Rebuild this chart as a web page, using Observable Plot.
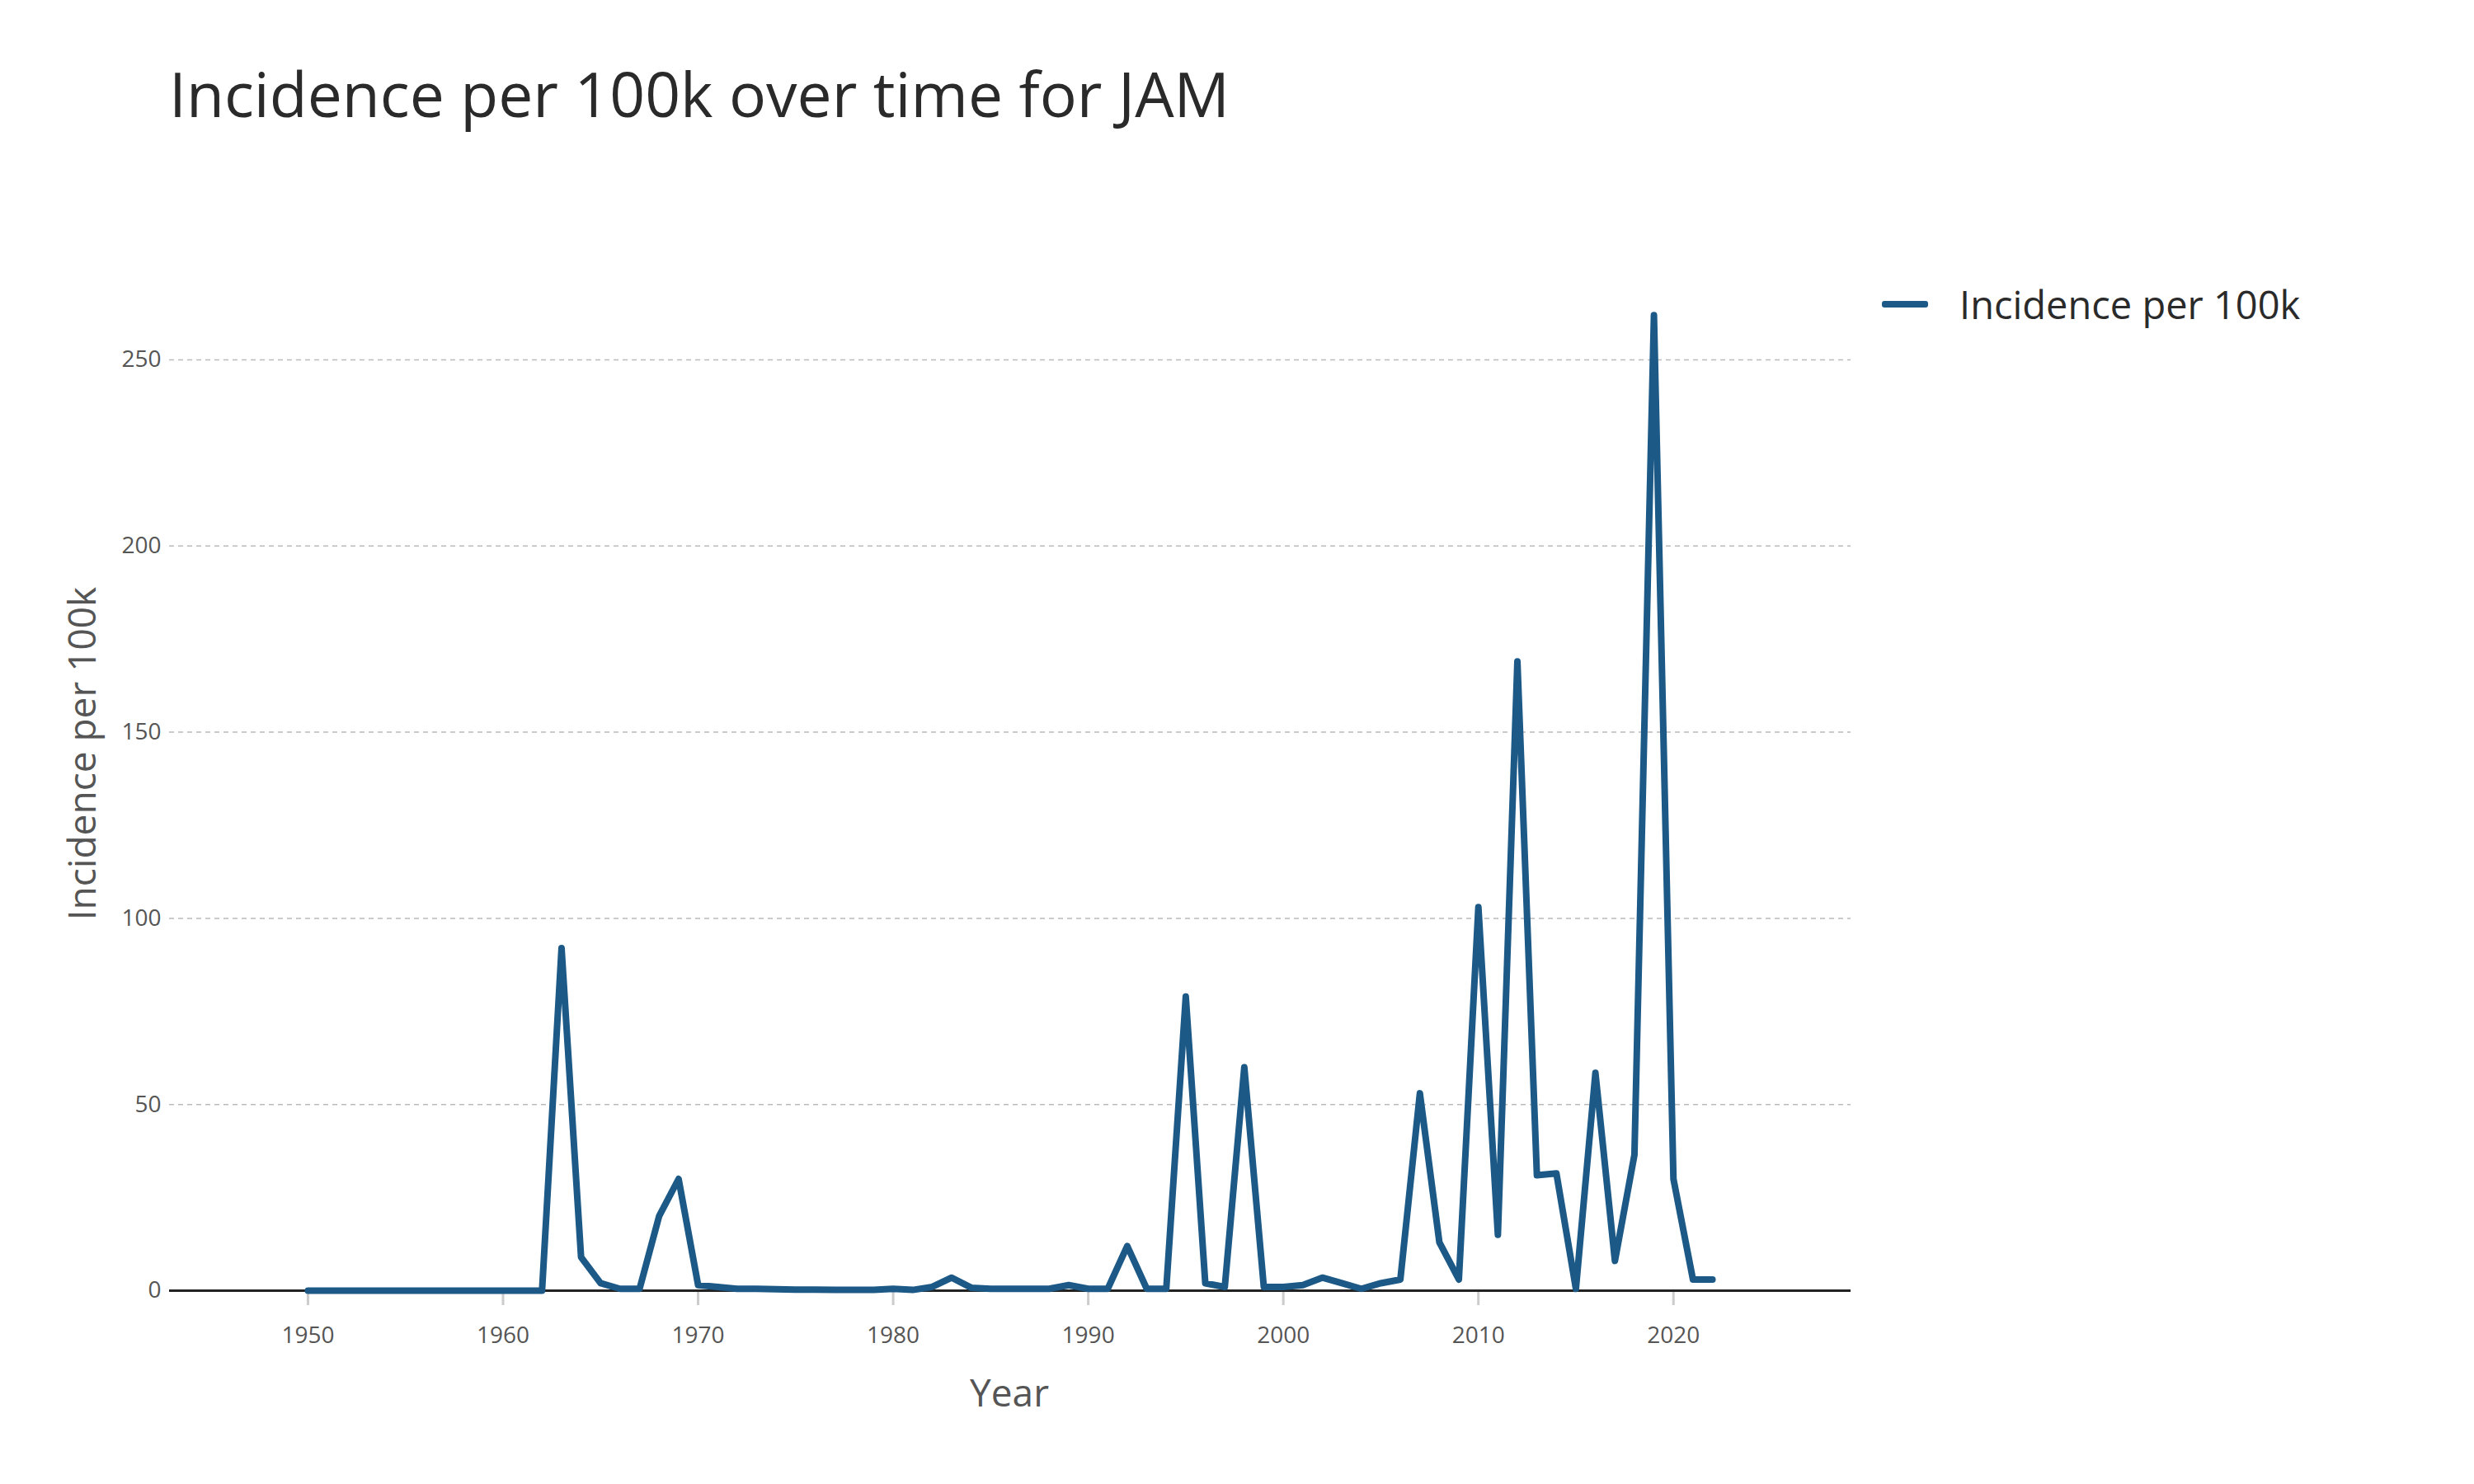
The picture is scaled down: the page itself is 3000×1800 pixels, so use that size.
<!DOCTYPE html>
<html>
<head>
<meta charset="utf-8">
<script src="https://cdn.jsdelivr.net/npm/d3@7"></script>
<script src="https://cdn.jsdelivr.net/npm/@observablehq/plot@0.6"></script>
<style>
  body { margin: 0; background: #fff; font-family: "Open Sans", sans-serif; }
  #wrap { position: relative; width: 3000px; height: 1800px; }
  #title { position: absolute; left: 205px; top: 62px; font-size: 75px; color: #2a2a2a; }
  #legend { position: absolute; left: 2282px; top: 337px; font-size: 47px; color: #2a2a2a; display: flex; align-items: center; }
  #legend span.sw { display: inline-block; width: 56px; height: 8px; background: #1c5986; border-radius: 3px; margin-right: 38px; }
  #chart { position: absolute; left: 0; top: 0; }
</style>
</head>
<body>
<div id="wrap">
  <div id="chart"></div>
  <div id="title">Incidence per 100k over time for JAM</div>
  <div id="legend"><span class="sw"></span>Incidence per 100k</div>
</div>
<script>
const years = d3.range(1950, 2023)
const incidence = [
  0, 0, 0, 0, 0, 0, 0, 0, 0, 0,          // 1950-1959
  0, 0, 0, 92, 9, 2, 0.5, 0.5, 20, 30,   // 1960-1969
  1.5, 1, 0.5, 0.5, 0.4, 0.3, 0.3, 0.2, 0.2, 0.2, // 1970-1979
  0.5, 0.2, 1, 3.5, 0.8, 0.5, 0.5, 0.5, 0.5, 1.5, // 1980-1989
  0.5, 0.5, 12, 0.5, 0.5, 79, 2, 1, 60, 1,        // 1990-1999
  1, 1.5, 3.5, 2, 0.5, 2, 3, 53, 13, 3,           // 2000-2009
  103, 15, 169, 31, 31.5, 0.5, 58.5, 8, 36.5, 262, // 2010-2019
  30, 3, 3                                         // 2020-2022
]
const xTicks = [1950, 1960, 1970, 1980, 1990, 2000, 2010, 2020]
const yTicks = [0, 50, 100, 150, 200, 250]

const data = years.map((y, i) => ({year: y, value: incidence[i]}))

const chart = Plot.plot({
  width: 3000,
  height: 1800,
  marginLeft: 205,
  marginRight: 756,
  marginTop: 300,
  marginBottom: 235,
  style: {fontFamily: "Open Sans", fontSize: "28px", color: "#555"},
  x: {domain: [1942.9, 2029.1], ticks: xTicks, tickFormat: d => String(d), label: null},
  y: {domain: [0, 280.1], ticks: yTicks, label: null},
  marks: [
    Plot.gridY(yTicks.filter(d => d > 0), {stroke: "#bbb", strokeOpacity: 1, strokeDasharray: "6,5", strokeWidth: 1.5}),
    Plot.axisX({ticks: xTicks, tickSize: 18, tickPadding: 26, stroke: "#ccc", strokeWidth: 3, tickFormat: d => String(d), fontSize: 28, fill: "#555", label: null}),
    Plot.axisY({ticks: yTicks, tickSize: 0, tickPadding: 10, fontSize: 28, fill: "#555", label: null}),
    Plot.ruleY([0], {stroke: "#222", strokeWidth: 3}),
    Plot.line(data, {x: "year", y: "value", stroke: "#1c5986", strokeWidth: 8, strokeLinejoin: "round"})
  ]
})
document.getElementById("chart").append(chart)

// axis titles as text in the svg
const svg = d3.select(chart)
svg.append("text").attr("x", 1224).attr("y", 1706).attr("text-anchor", "middle")
  .attr("font-size", 46).attr("fill", "#555").attr("font-family", "Open Sans").text("Year")
svg.append("text").attr("transform", "translate(116,914) rotate(-90)").attr("text-anchor", "middle")
  .attr("font-size", 46).attr("fill", "#555").attr("font-family", "Open Sans").text("Incidence per 100k")
</script>
</body>
</html>
